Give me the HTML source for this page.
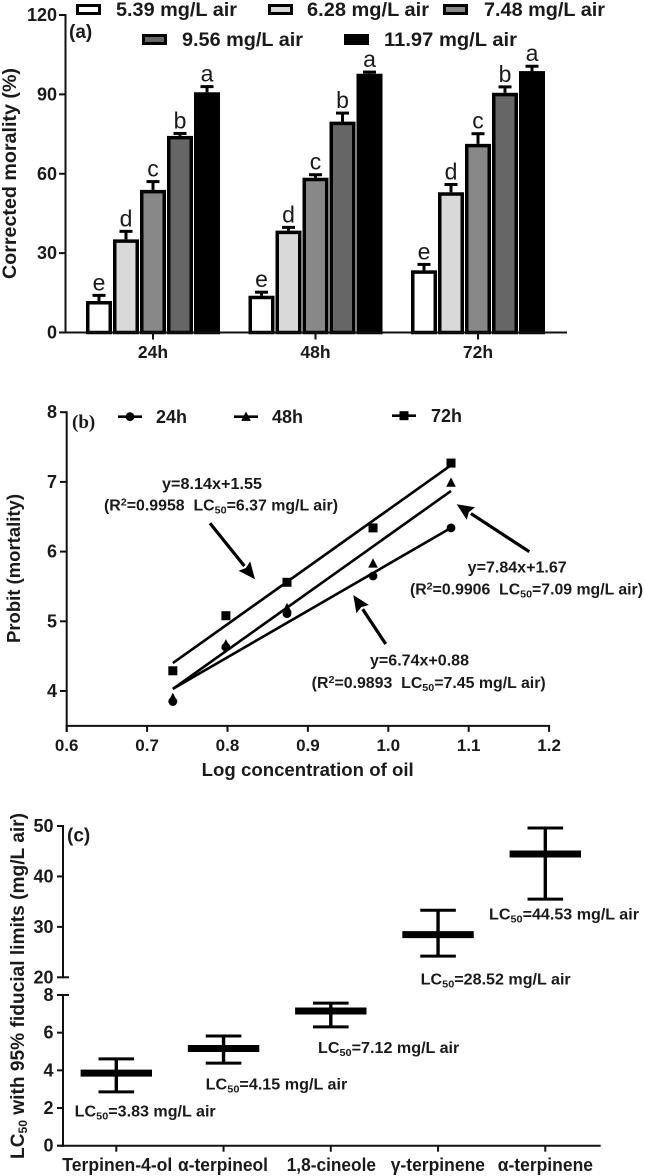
<!DOCTYPE html>
<html lang="en">
<head>
<meta charset="utf-8">
<title>Corrected mortality, probit regression and LC50 charts</title>
<style>
html,body{margin:0;padding:0;background:#fff;}
svg{display:block;}
text{font-family:"Liberation Sans",sans-serif;font-weight:bold;fill:#1a1a1a;}
.ann{font-size:15.5px;}
.sub{font-size:10.5px;}
.sup{font-size:10.5px;}
</style>
</head>
<body>
<svg id="fig" xmlns="http://www.w3.org/2000/svg" width="645" height="1176" viewBox="0 0 645 1176">
  <rect x="0" y="0" width="645" height="1176" fill="#fff"/>
  <g id="a">
    <text x="69" y="38" style="font-family:'Liberation Sans',sans-serif;font-size:19px">(a)</text>
    <text transform="translate(16,279) rotate(-90)" font-size="19" textLength="211" lengthAdjust="spacingAndGlyphs">Corrected morality (%)</text>
  </g>
  <g id="b">
    <text x="72" y="428" style="font-family:'Liberation Serif',serif;font-size:19px">(b)</text>
    <text transform="translate(20,643) rotate(-90)" font-size="18" textLength="149" lengthAdjust="spacingAndGlyphs">Probit (mortality)</text>
    <text x="201.7" y="776" font-size="18" textLength="212" lengthAdjust="spacingAndGlyphs">Log concentration of oil</text>
    <text class="ann" x="162" y="489" textLength="100" lengthAdjust="spacingAndGlyphs">y=8.14x+1.55</text>
    <text class="ann" x="104" y="510.7" textLength="234" lengthAdjust="spacingAndGlyphs">(R<tspan class="sup" dy="-5">2</tspan><tspan dy="5">=0.9958&#160;&#160;LC</tspan><tspan class="sub" dy="3">50</tspan><tspan dy="-3">=6.37 mg/L air)</tspan></text>
    <text class="ann" x="467.7" y="572.7" textLength="99" lengthAdjust="spacingAndGlyphs">y=7.84x+1.67</text>
    <text class="ann" x="410" y="594.3" textLength="233" lengthAdjust="spacingAndGlyphs">(R<tspan class="sup" dy="-5">2</tspan><tspan dy="5">=0.9906&#160;&#160;LC</tspan><tspan class="sub" dy="3">50</tspan><tspan dy="-3">=7.09 mg/L air)</tspan></text>
    <text class="ann" x="370" y="665.7" textLength="99" lengthAdjust="spacingAndGlyphs">y=6.74x+0.88</text>
    <text class="ann" x="311.7" y="688" textLength="234" lengthAdjust="spacingAndGlyphs">(R<tspan class="sup" dy="-5">2</tspan><tspan dy="5">=0.9893&#160;&#160;LC</tspan><tspan class="sub" dy="3">50</tspan><tspan dy="-3">=7.45 mg/L air)</tspan></text>
  </g>
  <g id="c">
    <text x="67" y="841.7" font-size="19">(c)</text>
    <text transform="translate(24,1159) rotate(-90)" font-size="19" textLength="346" lengthAdjust="spacingAndGlyphs">LC<tspan class="sub" dy="3" style="font-size:12px">50</tspan><tspan dy="-3"> with 95% fiducial limits (mg/L air)</tspan></text>
    <text class="ann" x="74.7" y="1116.7" textLength="141" lengthAdjust="spacingAndGlyphs">LC<tspan class="sub" dy="3">50</tspan><tspan dy="-3">=3.83 mg/L air</tspan></text>
    <text class="ann" x="205.7" y="1089.3" textLength="141.6" lengthAdjust="spacingAndGlyphs">LC<tspan class="sub" dy="3">50</tspan><tspan dy="-3">=4.15 mg/L air</tspan></text>
    <text class="ann" x="318" y="1053" textLength="141.3" lengthAdjust="spacingAndGlyphs">LC<tspan class="sub" dy="3">50</tspan><tspan dy="-3">=7.12 mg/L air</tspan></text>
    <text class="ann" x="420.7" y="984.3" textLength="150" lengthAdjust="spacingAndGlyphs">LC<tspan class="sub" dy="3">50</tspan><tspan dy="-3">=28.52 mg/L air</tspan></text>
    <text class="ann" x="489" y="919.3" textLength="150" lengthAdjust="spacingAndGlyphs">LC<tspan class="sub" dy="3">50</tspan><tspan dy="-3">=44.53 mg/L air</tspan></text>
  </g>
</svg>
<script>
// ---------- Panel A data ----------
const aTimes = ['24h', '48h', '72h'];
const aDoses = ['5.39 mg/L air', '6.28 mg/L air', '7.48 mg/L air', '9.56 mg/L air', '11.97 mg/L air'];
const aValues = [
  [11.9, 35.2, 53.9, 74.3, 90.8],
  [13.9, 38.5, 58.5, 79.7, 97.8],
  [23.5, 53.0, 71.3, 90.6, 98.8]
];
const aErrors = [
  [14.6, 38.8, 57.6, 75.8, 93.5],
  [15.8, 40.3, 60.2, 83.5, 99.0],
  [26.3, 56.5, 75.7, 93.4, 101.2]
];
const aLetters = ['e', 'd', 'c', 'b', 'a'];
const aTicks = [0, 30, 60, 90, 120];
// ---------- Panel B data ----------
const bSeries = ['24h', '48h', '72h'];
const bLogDose = [0.732, 0.798, 0.874, 0.981, 1.078];
const bProbit24 = [3.85, 4.63, 5.11, 5.65, 6.34];
const bProbit48 = [3.90, 4.67, 5.19, 5.83, 6.99];
const bProbit72 = [4.29, 5.08, 5.56, 6.34, 7.27];
const bFitStart = [4.03, 4.03, 4.40];
const bFitEnd = [6.34, 6.87, 7.24];
const bXTicks = [0.6, 0.7, 0.8, 0.9, 1.0, 1.1, 1.2];
const bYTicks = [4, 5, 6, 7, 8];
// ---------- Panel C data ----------
const cNames = ['Terpinen-4-ol', 'α-terpineol', '1,8-cineole', 'γ-terpinene', 'α-terpinene'];
const cMeans = [3.85, 5.16, 7.15, 28.45, 44.45];
const cUpper = [4.61, 5.82, 7.57, 33.3, 49.6];
const cLower = [2.86, 4.38, 6.31, 24.2, 35.5];
const cTicksLow = [0, 2, 4, 6, 8];
const cTicksHigh = [20, 30, 40, 50];

const NS = 'http://www.w3.org/2000/svg';
const INK = '#111';
function mk(tag, attrs, parent, txt) {
  const n = document.createElementNS(NS, tag);
  for (const k in attrs) n.setAttribute(k, attrs[k]);
  if (txt !== undefined) n.textContent = txt;
  parent.appendChild(n);
  return n;
}
function slug(s) { return String(s).toLowerCase().replace(/[^a-z0-9]+/g, '-').replace(/^-|-$/g, ''); }
const gA = document.getElementById('a');
const gB = document.getElementById('b');
const gC = document.getElementById('c');
let el;

// ========== Panel A ==========
const aY = v => 332.5 - v * (317.5 / 120);
const aX = i => 153 + i * 162.5;
const aFill = ['#ffffff', '#d9d9d9', '#888888', '#666666', '#000000'];
const aLegendBox = [[76, 4], [268, 4], [443, 4], [142, 34], [344, 34]];
const aLegendText = [[116, 121], [307, 122], [484, 121], [182, 121], [384, 133]];

aDoses.forEach((d, i) => {
  const box = aLegendBox[i];
  el = mk('rect', {x: box[0] + 1.5, y: box[1] + 1.5, width: 22, height: 8, fill: aFill[i], stroke: '#000', 'stroke-width': 3}, gA);
  
  
  el = mk('text', {x: aLegendText[i][0], y: box[1] + 12, 'font-size': 19.5, textLength: aLegendText[i][1], lengthAdjust: 'spacingAndGlyphs'}, gA, d);
  
  
});

aTimes.forEach((t, g) => {
  aDoses.forEach((d, i) => {
    const cx = aX(g) + (i - 2) * 27;
    const top = aY(aValues[g][i]);
    const err = aY(aErrors[g][i]);
    el = mk('line', {x1: cx, x2: cx, y1: err + 1.5, y2: top, stroke: '#000', 'stroke-width': 3}, gA);
    
    
    el = mk('line', {x1: cx - 6.5, x2: cx + 6.5, y1: err + 1.5, y2: err + 1.5, stroke: '#000', 'stroke-width': 3}, gA);
    
    
    el = mk('rect', {x: cx - 11.25, y: top + 1.75, width: 22.5, height: aY(0) - top - 1.75, fill: aFill[i], stroke: '#000', 'stroke-width': 3.5}, gA);
    
    
    el = mk('text', {x: cx, y: err - 3.5, 'text-anchor': 'middle', 'font-size': 23, style: 'font-weight:normal'}, gA, aLetters[i]);
    
    
  });
  el = mk('line', {x1: aX(g), x2: aX(g), y1: aY(0), y2: aY(0) + 7, stroke: INK, 'stroke-width': 2}, gA);
  
  
  el = mk('text', {x: aX(g), y: 358, 'text-anchor': 'middle', 'font-size': 17.5}, gA, t);
  
  
});

el = mk('line', {x1: 65.5, x2: 65.5, y1: aY(120) - 1, y2: aY(0) + 1, stroke: INK, 'stroke-width': 2}, gA);


el = mk('line', {x1: 59, x2: 567, y1: aY(0), y2: aY(0), stroke: INK, 'stroke-width': 2}, gA);


aTicks.forEach(v => {
  el = mk('line', {x1: 59, x2: 65.5, y1: aY(v), y2: aY(v), stroke: INK, 'stroke-width': 2}, gA);
  
  
  el = mk('text', {x: 57, y: aY(v) + 6, 'text-anchor': 'end', 'font-size': 18}, gA, String(v));
  
  
});

// ========== Panel B ==========
const bX = v => 66.7 + (v - 0.6) * 804;
const bY = v => 691 - (v - 4) * 69.7;
const bData = [bProbit24, bProbit48, bProbit72];

function marker(kind, x, y, parent) {
  if (kind === 0) return mk('circle', {cx: x, cy: y, r: 4.4, fill: '#000'}, parent);
  if (kind === 1) return mk('polygon', {points: (x - 4.8) + ',' + (y + 4.2) + ' ' + (x + 4.8) + ',' + (y + 4.2) + ' ' + x + ',' + (y - 5.2), fill: '#000'}, parent);
  return mk('rect', {x: x - 4.5, y: y - 4.5, width: 9, height: 9, fill: '#000'}, parent);
}

bSeries.forEach((s, k) => {
  el = mk('line', {x1: bX(bLogDose[0]), y1: bY(bFitStart[k]), x2: bX(bLogDose[4]), y2: bY(bFitEnd[k]), stroke: '#000', 'stroke-width': 2.6}, gB);
  
  
  bLogDose.forEach((x, i) => {
    el = marker(k, bX(x), bY(bData[k][i]), gB);
    
    
  });
});

const bLegX = [118, 234, 392];
const bLegY = [416.7, 416.7, 415.7];
const bLegT = [156, 272, 431];
bSeries.forEach((s, k) => {
  el = mk('line', {x1: bLegX[k], x2: bLegX[k] + 24, y1: bLegY[k], y2: bLegY[k], stroke: '#000', 'stroke-width': 2.6}, gB);
  
  
  el = marker(k, bLegX[k] + 12, bLegY[k], gB);
  
  
  el = mk('text', {x: bLegT[k], y: bLegY[k] + 6.3, 'font-size': 18, textLength: 31, lengthAdjust: 'spacingAndGlyphs'}, gB, s);
  
  
});

el = mk('line', {x1: bX(0.6), x2: bX(0.6), y1: bY(8) - 1, y2: bY(3.5) + 6, stroke: INK, 'stroke-width': 2}, gB);


el = mk('line', {x1: bX(0.6) - 1, x2: bX(1.2) + 1, y1: bY(3.5), y2: bY(3.5), stroke: INK, 'stroke-width': 2}, gB);


bXTicks.forEach(v => {
  el = mk('line', {x1: bX(v), x2: bX(v), y1: bY(3.5), y2: bY(3.5) + 6, stroke: INK, 'stroke-width': 2}, gB);
  
  
  el = mk('text', {x: bX(v), y: 751, 'text-anchor': 'middle', 'font-size': 17}, gB, v.toFixed(1));
  
  
});
bYTicks.forEach(v => {
  el = mk('line', {x1: 60, x2: bX(0.6), y1: bY(v), y2: bY(v), stroke: INK, 'stroke-width': 2}, gB);
  
  
  el = mk('text', {x: 57, y: bY(v) + 6, 'text-anchor': 'end', 'font-size': 18}, gB, String(v));
  
  
});

function arrow(x1, y1, x2, y2, name) {
  const len = Math.hypot(x2 - x1, y2 - y1);
  const ux = (x2 - x1) / len, uy = (y2 - y1) / len;
  const bx = x2 - ux * 17, by = y2 - uy * 17;
  el = mk('line', {x1: x1, y1: y1, x2: bx, y2: by, stroke: '#000', 'stroke-width': 3.2}, gB);
  
  
  const pts = [x2, y2, bx - uy * 7.5, by + ux * 7.5, bx + ux * 2.5, by + uy * 2.5, bx + uy * 7.5, by - ux * 7.5].map(n => n.toFixed(1));
  el = mk('polygon', {points: pts.join(' '), fill: '#000'}, gB);
  
  
}
arrow(210, 523.3, 255, 579.3, 'arrow-72h');
arrow(529.3, 551.7, 456.7, 504.3, 'arrow-48h');
arrow(385.7, 644, 353.3, 595, 'arrow-24h');

// ========== Panel C ==========
const cY = v => v <= 8 ? 1145.7 - v * 18.84 : 977.3 - (v - 20) * 5.043;
const cX = i => 116.3 + i * 107.25;

el = mk('line', {x1: 63, x2: 63, y1: cY(50) - 1, y2: cY(20) + 1, stroke: INK, 'stroke-width': 2}, gC);


el = mk('line', {x1: 63, x2: 63, y1: cY(8) - 1, y2: cY(0) + 1, stroke: INK, 'stroke-width': 2}, gC);


el = mk('line', {x1: 57, x2: 600.7, y1: cY(0), y2: cY(0), stroke: INK, 'stroke-width': 2}, gC);



cTicksHigh.concat(cTicksLow).forEach(v => {
  const right = (v === 20 || v === 8) ? 69 : 63;
  el = mk('line', {x1: 57, x2: right, y1: cY(v), y2: cY(v), stroke: INK, 'stroke-width': 2}, gC);
  
  
  el = mk('text', {x: 53.5, y: cY(v) + 6, 'text-anchor': 'end', 'font-size': 18}, gC, String(v));
  
  
});

const cLabelX = [62.3, 178, 286.7, 390.7, 497.7];
const cLabelW = [110, 90, 89.3, 94.3, 95.3];
cNames.forEach((n, i) => {
  const x = cX(i);
  const s = slug(n) + '-' + i;
  el = mk('line', {x1: x, x2: x, y1: cY(cUpper[i]), y2: cY(cLower[i]), stroke: '#000', 'stroke-width': 3.4}, gC);
  
  
  el = mk('line', {x1: x - 17.8, x2: x + 17.8, y1: cY(cUpper[i]), y2: cY(cUpper[i]), stroke: '#000', 'stroke-width': 3}, gC);
  
  
  el = mk('line', {x1: x - 17.8, x2: x + 17.8, y1: cY(cLower[i]), y2: cY(cLower[i]), stroke: '#000', 'stroke-width': 3}, gC);
  
  
  el = mk('line', {x1: x - 35.7, x2: x + 35.7, y1: cY(cMeans[i]), y2: cY(cMeans[i]), stroke: '#000', 'stroke-width': 7}, gC);
  
  
  el = mk('line', {x1: x, x2: x, y1: cY(0), y2: cY(0) + 6, stroke: INK, 'stroke-width': 2}, gC);
  
  
  el = mk('text', {x: cLabelX[i], y: 1171, 'font-size': 18, textLength: cLabelW[i], lengthAdjust: 'spacingAndGlyphs'}, gC, n);
  
  
});
</script>
</body>
</html>
